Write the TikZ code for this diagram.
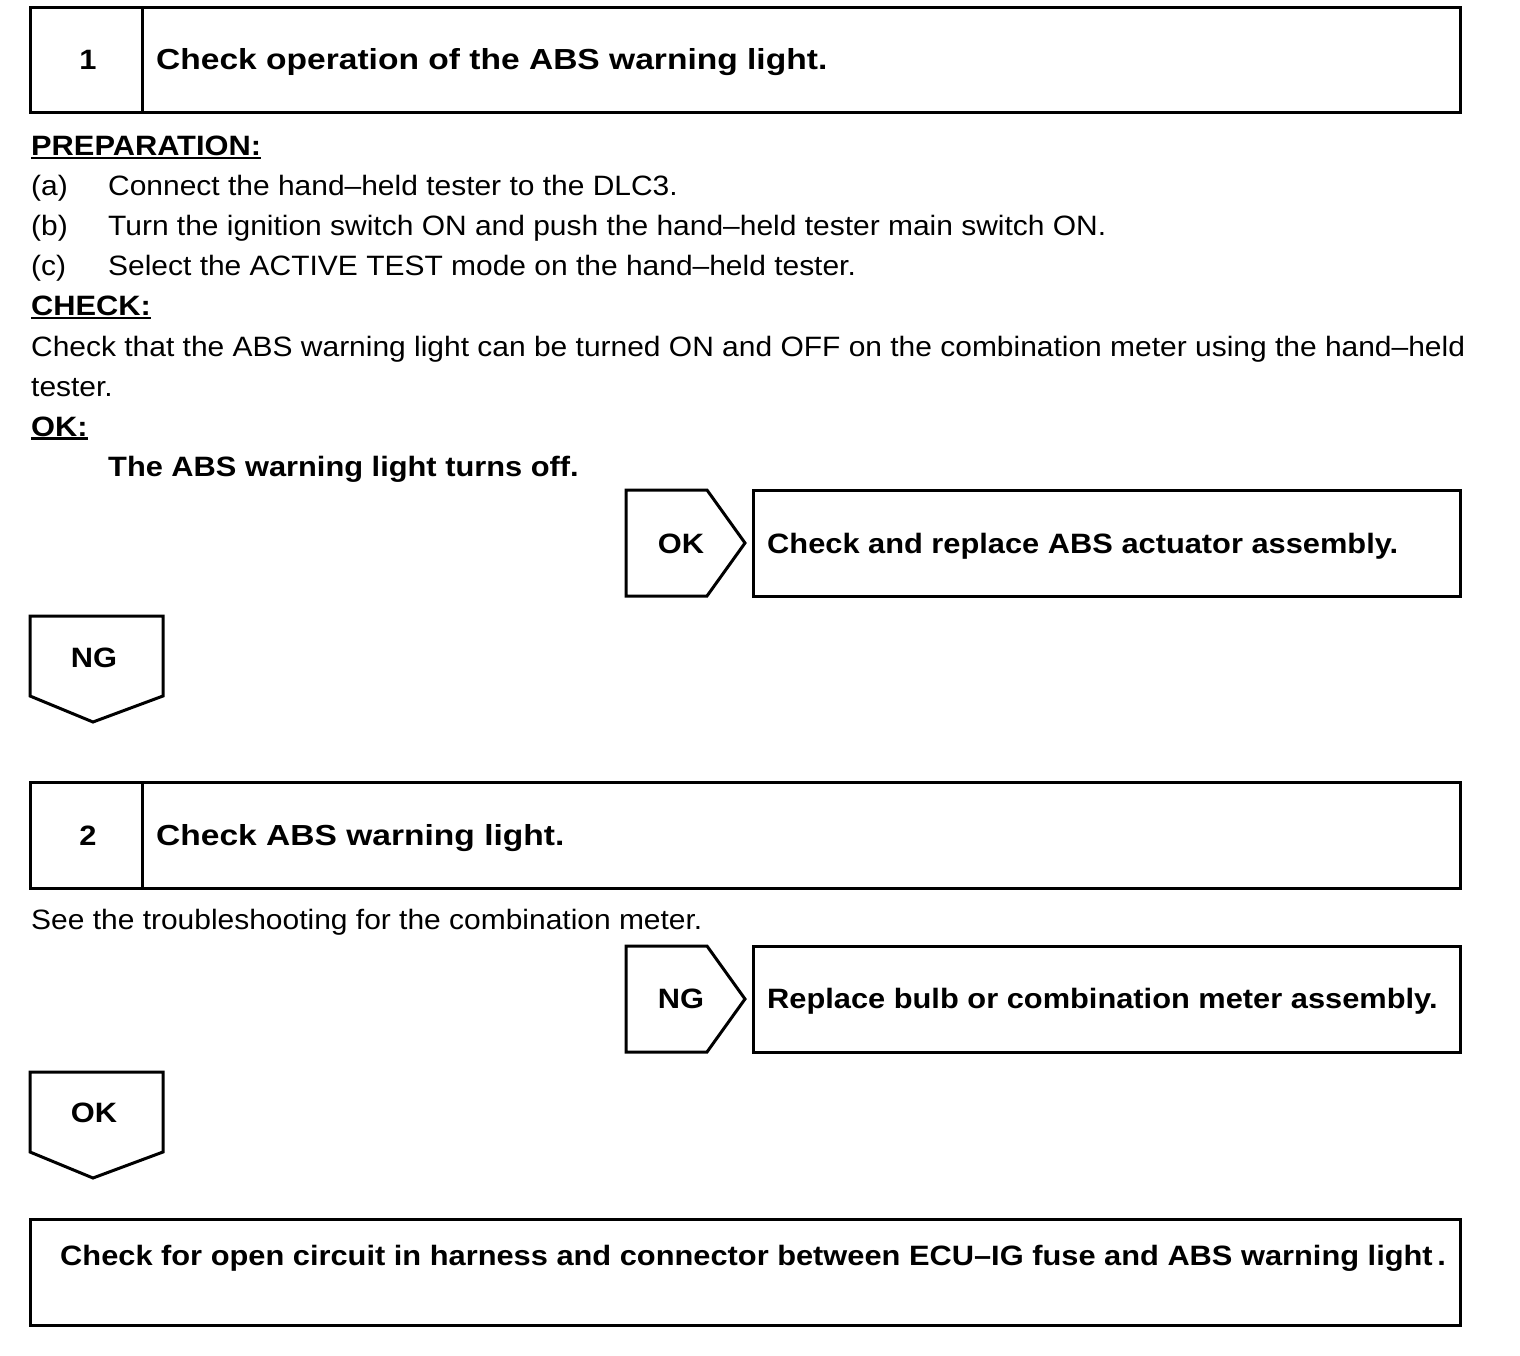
\documentclass[tikz,border=0pt]{standalone}
\usepackage{fontspec}
\setmainfont{Liberation Sans}[FakeStretch=1.07]
\newfontfamily\bstr{Liberation Sans}[FakeStretch=1.10]
\newfontfamily\tstr{Liberation Sans}[FakeStretch=1.157]
\newcommand{\myul}[1]{\setbox0\hbox{#1}\rlap{\rule[-3.5pt]{\wd0}{2.2pt}}\box0}
\begin{document}
\begin{tikzpicture}[x=1pt,y=-1pt,
  frame/.style={draw=black,line width=3pt,line join=miter},
  txt/.style={inner sep=0pt,anchor=base west,font=\fontsize{28}{32}\selectfont},
  btxt/.style={txt,font=\fontsize{28}{32}\selectfont\bstr\bfseries},
  ttxt/.style={txt,font=\fontsize{29}{33}\selectfont\tstr\bfseries},
  ctxt/.style={inner sep=0pt,anchor=base,font=\fontsize{28}{32}\selectfont\bstr\bfseries}]
\useasboundingbox (0,0) rectangle (1520,1356);
% Step 1 header
\draw[frame] (30,8) rectangle (1460,113);
\draw[frame] (142,8) -- (142,113);
\node[ctxt] (n1) at (88,70) {1};
\node[ttxt] (t1) at (156,70) {Check operation of the ABS warning light.};
% preparation
\node[btxt] (prep) at (31,156) {\myul{PREPARATION:}};
\node[txt] (la) at (31,196) {(a)};
\node[txt] (ta) at (108,196) {Connect the hand–held tester to the DLC3.};
\node[txt] (lb) at (31,236) {(b)};
\node[txt] (tb) at (108,236) {Turn the ignition switch ON and push the hand–held tester main switch ON.};
\node[txt] (lc) at (31,276) {(c)};
\node[txt] (tc) at (108,276) {Select the ACTIVE TEST mode on the hand–held tester.};
\node[btxt] (chk) at (31,316) {\myul{CHECK:}};
\node[txt] (chk1) at (31,356) {Check that the ABS warning light can be turned ON and OFF on the combination meter using the hand–held};
\node[txt] (chk2) at (31,396) {tester.};
\node[btxt] (ok) at (31,436) {\myul{OK:}};
\node[btxt] (okt) at (108,476) {The ABS warning light turns off.};
% OK arrow right
\draw[frame] (626,490) -- (707,490) -- (745,543) -- (707,596) -- (626,596) -- cycle;
\node[ctxt] (okr) at (681,553) {OK};
\draw[frame] (753,490) rectangle (1460,596);
\node[btxt] (rep1) at (767,553) {Check and replace ABS actuator assembly.};
% NG arrow down
\draw[frame] (30,616) -- (163,616) -- (163,696) -- (93,722) -- (30,696) -- cycle;
\node[ctxt] (ngd) at (94,667) {NG};
% Step 2 header
\draw[frame] (30,782) rectangle (1460,888);
\draw[frame] (142,782) -- (142,888);
\node[ctxt] (n2) at (88,845) {2};
\node[ttxt] (t2) at (156,845) {Check ABS warning light.};
\node[txt] (see) at (31,929) {See the troubleshooting for the combination meter.};
% NG arrow right
\draw[frame] (626,946) -- (707,946) -- (745,999) -- (707,1052) -- (626,1052) -- cycle;
\node[ctxt] (ngr) at (681,1008) {NG};
\draw[frame] (753,946) rectangle (1460,1052);
\node[btxt] (rep2) at (767,1008) {Replace bulb or combination meter assembly.};
% OK arrow down
\draw[frame] (30,1072) -- (163,1072) -- (163,1152) -- (93,1178) -- (30,1152) -- cycle;
\node[ctxt] (okd) at (94,1122) {OK};
% final box
\draw[frame] (30,1219) rectangle (1460,1325);
\node[btxt] (fin) at (60,1265) {Check for open circuit in harness and connector between ECU–IG fuse and ABS warning light\,.};
\end{tikzpicture}
\end{document}
